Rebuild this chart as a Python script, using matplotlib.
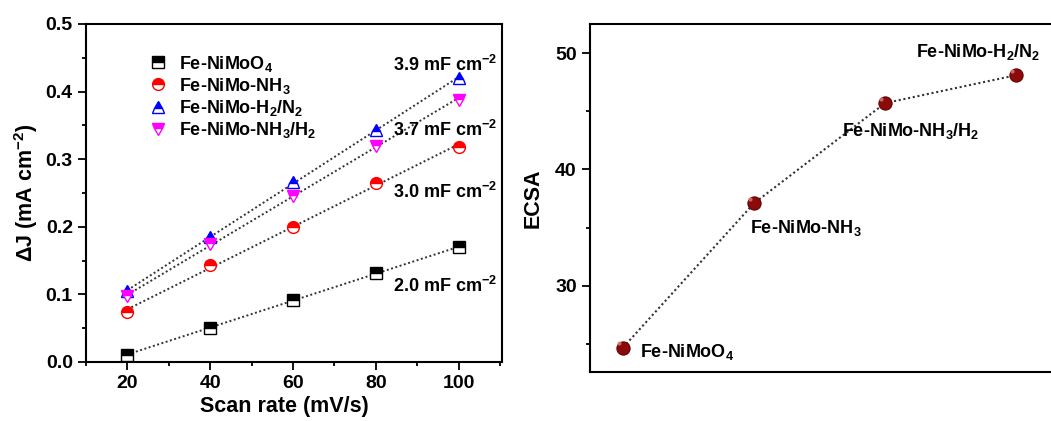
import numpy as np
import matplotlib
matplotlib.use("Agg")
import matplotlib.pyplot as plt

plt.rcParams['font.family'] = ['Liberation Sans', 'DejaVu Sans']
plt.rcParams['font.weight'] = 'bold'
plt.rcParams['mathtext.fontset'] = 'custom'
plt.rcParams['mathtext.rm'] = 'Liberation Sans:bold'
plt.rcParams['mathtext.bf'] = 'Liberation Sans:bold'
plt.rcParams['mathtext.it'] = 'Liberation Sans:bold'
plt.rcParams['mathtext.default'] = 'rm'

# ---- data ----
scan_rate = [20, 40, 60, 80, 100]
j_niMoO4 = [0.011, 0.051, 0.091, 0.131, 0.170]
j_nh3 = [0.074, 0.143, 0.200, 0.265, 0.318]
j_h2n2 = [0.105, 0.185, 0.266, 0.343, 0.420]
j_nh3h2 = [0.097, 0.174, 0.246, 0.320, 0.388]
series_labels = ['Fe-NiMoO$_4$', 'Fe-NiMo-NH$_3$', 'Fe-NiMo-H$_2$/N$_2$', 'Fe-NiMo-NH$_3$/H$_2$']
cdl_labels = ['2.0 mF cm$^{-2}$', '3.0 mF cm$^{-2}$', '3.9 mF cm$^{-2}$', '3.7 mF cm$^{-2}$']
cdl_label_y = [0.112, 0.252, 0.440, 0.344]

ecsa_samples = ['Fe-NiMoO$_4$', 'Fe-NiMo-NH$_3$', 'Fe-NiMo-NH$_3$/H$_2$', 'Fe-NiMo-H$_2$/N$_2$']
ecsa_values = [24.7, 37.1, 45.7, 48.1]
ecsa_label_offsets = [(17, -4), (-4, -25), (-43, -28), (-100, 23)]

W, H = 1051, 421
fig = plt.figure(figsize=(W / 100, H / 100), dpi=100)

# ---- left panel ----
ax1 = fig.add_axes([86 / W, 1 - 362 / H, 416 / W, 338 / H])
styles = [
    dict(marker='s', color='black'),
    dict(marker='o', color='red'),
    dict(marker='^', color='blue'),
    dict(marker='v', color='magenta'),
]
all_j = [j_niMoO4, j_nh3, j_h2n2, j_nh3h2]
x = np.array(scan_rate, dtype=float)
for j, st, lab, cl, cy in zip(all_j, styles, series_labels, cdl_labels, cdl_label_y):
    p = np.polyfit(x, j, 1)
    ax1.plot(x, np.polyval(p, x), linestyle=(0, (1, 1.3)), color='#333333', lw=1.4, zorder=2)
    ax1.plot(x, j, linestyle='none', marker=st['marker'], markersize=8.5,
             markerfacecolor=st['color'], markerfacecoloralt='white',
             markeredgecolor=st['color'], fillstyle='top', markeredgewidth=1.0,
             label=lab, zorder=3)
    ax1.text(109.2, cy, cl, ha='right', va='center', fontsize=13, fontweight='bold')

ax1.set_xlim(10, 110.5)
ax1.set_ylim(0, 0.5)
ax1.set_xticks(scan_rate)
ax1.set_xticks([10, 30, 50, 70, 90, 110], minor=True)
ax1.set_yticks([0.0, 0.1, 0.2, 0.3, 0.4, 0.5])
ax1.set_yticklabels(['0.0', '0.1', '0.2', '0.3', '0.4', '0.5'])
ax1.set_yticks([0.05, 0.15, 0.25, 0.35, 0.45], minor=True)
ax1.tick_params(which='major', direction='out', length=6, width=1.3, labelsize=14)
ax1.tick_params(which='minor', direction='out', length=3, width=1.3)
for s in ax1.spines.values():
    s.set_linewidth(1.5)
ax1.set_xlabel('Scan rate (mV/s)', fontsize=15.5, fontweight='bold')
ax1.xaxis.set_label_coords(0.476, -0.1)
ax1.set_ylabel('ΔJ (mA cm$^{-2}$)', fontsize=15.5, fontweight='bold', labelpad=4)
ax1.legend(loc='upper left', bbox_to_anchor=(0.12, 0.95), frameon=False, fontsize=13,
           handlelength=1.0, handletextpad=0.7, labelspacing=0.12, borderpad=0.2)

# ---- right panel ----
ax2 = fig.add_axes([590 / W, 1 - 372 / H, (1056 - 590) / W, 348 / H])
idx = np.arange(len(ecsa_values))
ax2.plot(idx, ecsa_values, linestyle=(0, (1, 1.3)), color='#333333', lw=1.5, zorder=2)
ax2.plot(idx, ecsa_values, linestyle='none', marker='o', markersize=9.5,
         markerfacecolor='#8b0b0b', markeredgecolor='#6a0000', markeredgewidth=0.8, zorder=3)
ax2.plot(idx - 0.03, np.array(ecsa_values) + 0.35, linestyle='none', marker='o', markersize=3,
         markerfacecolor='#d98080', markeredgecolor='none', alpha=0.8, zorder=4)
for i, (lab, off) in enumerate(zip(ecsa_samples, ecsa_label_offsets)):
    ax2.annotate(lab, (idx[i], ecsa_values[i]), xytext=off, textcoords='offset pixels',
                 ha='left', va='center', fontsize=13, fontweight='bold', annotation_clip=False)
ax2.set_xlim(-0.252, 3.305)
ax2.set_ylim(22.6, 52.5)
ax2.set_xticks([])
ax2.set_yticks([30, 40, 50])
ax2.set_yticks([25, 35, 45], minor=True)
ax2.tick_params(which='major', direction='out', length=6, width=1.3, labelsize=14)
ax2.tick_params(which='minor', direction='out', length=3, width=1.3)
for s in ax2.spines.values():
    s.set_linewidth(1.5)
ax2.set_ylabel('ECSA', fontsize=15.5, fontweight='bold', labelpad=8)

fig.savefig('out.png', dpi=100)
